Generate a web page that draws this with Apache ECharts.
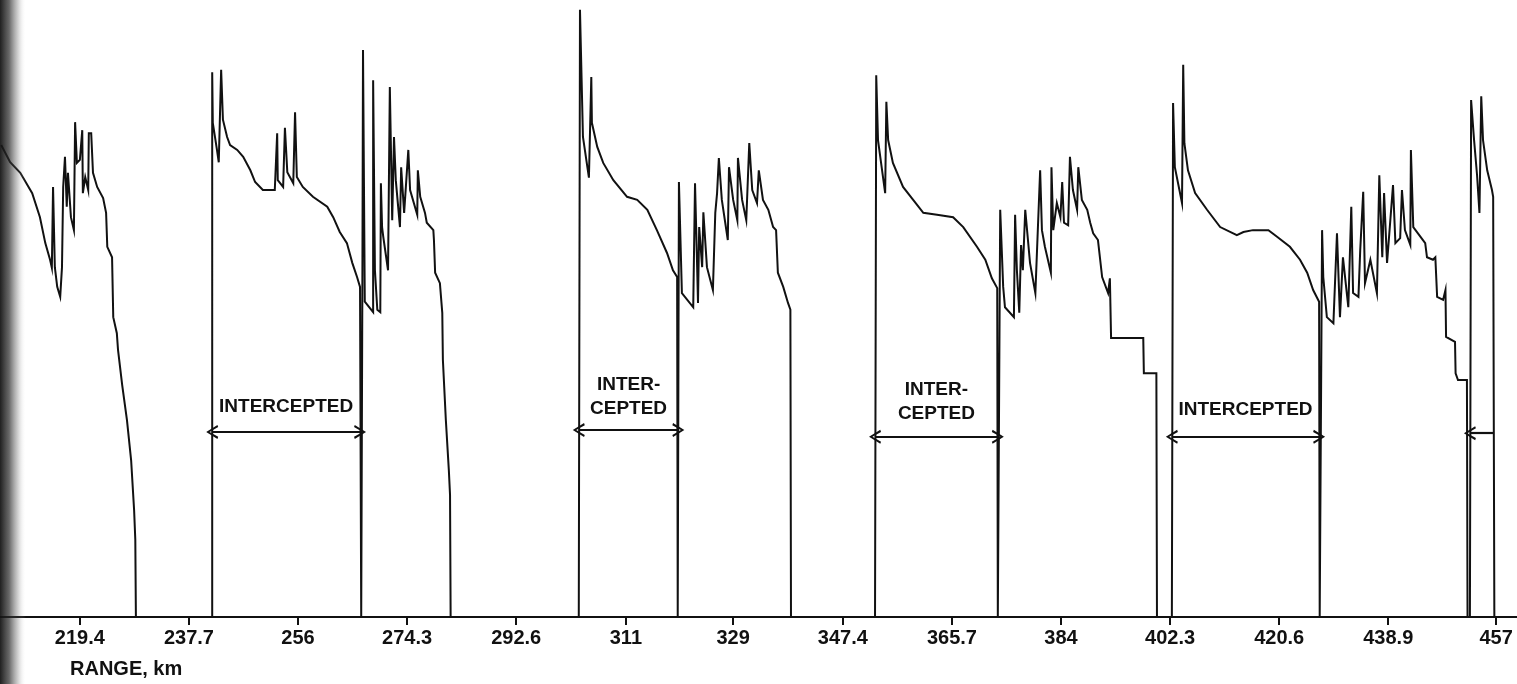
<!DOCTYPE html>
<html>
<head>
<meta charset="utf-8">
<title>RANGE, km</title>
<script src="https://cdn.jsdelivr.net/npm/echarts@6/dist/echarts.min.js"></script>
<style>
  html, body { margin: 0; padding: 0; background: #fff; }
  #chart { width: 1517px; height: 684px; }
</style>
</head>
<body>
<div id="chart"></div>
<script>
// Range tick positions (km) and the labels printed under them
const tickValues = [219.4, 237.7, 256, 274.3, 292.6, 311, 329, 347.4, 365.7, 384, 402.3, 420.6, 438.9, 457];
const tickLabels = ['219.4', '237.7', '256', '274.3', '292.6', '311', '329', '347.4', '365.7', '384', '402.3', '420.6', '438.9', '457'];

// Received signal level (relative, 0-100) versus range (km), one array per trace run
const traceA = [[206.2,76.5],[207.7,73.7],[209.4,72.0],[211.4,68.7],[212.7,64.8],[213.6,60.6],[214.4,57.9],[214.7,56.6],[214.9,69.7],[215.2,56.7],[215.6,53.5],[216.1,51.9],[216.4,56.7],[216.6,69.7],[216.9,74.6],[217.2,66.5],[217.4,72.0],[217.9,64.8],[218.4,62.7],[218.6,80.2],[218.9,73.6],[219.4,74.1],[219.8,78.9],[219.9,68.7],[220.3,71.3],[220.8,69.2],[220.9,78.4],[221.3,78.4],[221.6,72.0],[222.3,69.7],[223.3,67.9],[223.8,65.5],[224.0,60.0],[224.8,58.3],[225.0,48.6],[225.6,46.0],[225.8,43.3],[226.5,37.6],[227.3,31.9],[228.0,25.4],[228.5,17.3],[228.7,12.5],[228.8,0]];
const traceB = [[241.6,0],[241.6,88.3],[241.7,80.1],[242.4,75.7],[242.7,73.7],[243.1,88.7],[243.4,80.6],[244.1,77.8],[244.6,76.5],[245.8,75.7],[246.8,74.6],[248.0,72.4],[248.8,70.5],[250.1,69.2],[252.1,69.2],[252.5,78.4],[252.6,70.8],[253.5,69.7],[253.8,79.3],[254.2,72.1],[255.2,70.3],[255.5,81.8],[255.8,71.3],[256.8,69.7],[258.5,68.1],[260.9,66.5],[261.9,64.8],[263.0,62.4],[264.2,60.6],[265.1,57.4],[265.9,55.1],[266.4,53.5],[266.6,0]];
const traceC = [[266.7,0],[266.8,56.2],[266.9,91.9],[267.2,51.1],[268.6,49.4],[268.6,87.0],[268.9,56.2],[269.3,49.8],[269.8,49.4],[269.9,70.3],[270.1,63.2],[270.3,61.6],[271.1,56.2],[271.4,85.9],[271.8,64.3],[272.1,77.8],[272.4,70.8],[273.1,63.2],[273.3,72.9],[273.8,65.5],[274.5,75.7],[274.8,69.2],[276.0,65.2],[276.1,72.4],[276.5,68.1],[277.3,65.5],[277.6,63.9],[278.7,62.7],[278.8,61.1],[279.0,55.8],[279.8,54.1],[280.2,49.3],[280.3,41.7],[280.8,31.9],[281.3,23.8],[281.5,19.8],[281.6,0]];
const traceD = [[303.1,0],[303.3,98.4],[303.8,77.8],[304.8,71.2],[305.2,87.5],[305.3,80.1],[306.2,76.2],[307.2,73.6],[308.9,70.8],[311.2,68.1],[312.9,67.6],[314.6,66.0],[316.2,62.7],[317.9,59.0],[318.9,56.2],[319.6,55.1],[319.7,0]];
const traceE = [[319.8,0],[319.9,70.5],[320.4,52.5],[322.3,50.2],[322.6,70.3],[322.9,59.0],[323.1,50.9],[323.3,63.2],[323.8,56.7],[324.0,65.6],[324.6,56.7],[325.6,53.0],[326.0,65.5],[326.3,68.7],[326.6,74.4],[327.1,67.6],[328.1,61.1],[328.3,72.9],[329.0,67.6],[329.7,64.3],[329.8,74.4],[330.5,67.6],[331.2,64.3],[331.7,76.8],[332.2,69.2],[333.0,67.1],[333.3,72.4],[334.0,67.6],[334.9,66.0],[335.7,63.2],[336.2,62.7],[336.5,55.8],[337.4,53.5],[338.2,50.9],[338.6,49.8],[338.7,0]];
const traceF = [[352.8,0],[353.0,87.8],[353.3,77.3],[354.5,68.7],[354.7,83.5],[355.0,77.3],[355.8,73.6],[357.5,69.7],[359.2,67.6],[360.9,65.5],[363.2,65.2],[365.9,64.8],[367.6,63.2],[369.9,60.0],[371.3,57.9],[372.4,54.9],[373.3,53.3],[373.4,0]];
const traceG = [[373.6,0],[373.8,66.0],[374.3,53.5],[374.6,50.2],[376.1,48.6],[376.3,65.2],[376.6,56.2],[377.0,49.3],[377.3,60.3],[377.6,56.2],[378.0,66.0],[378.8,57.4],[379.7,52.5],[380.0,60.0],[380.5,72.4],[380.8,62.7],[381.3,60.0],[382.3,55.8],[382.4,72.9],[382.7,62.7],[383.3,67.1],[383.9,64.8],[384.2,70.5],[384.5,63.9],[385.2,63.5],[385.5,74.6],[386.0,69.2],[386.7,66.0],[386.9,72.9],[387.5,67.6],[388.4,66.0],[388.9,63.9],[389.4,62.2],[390.2,61.1],[390.9,55.1],[391.9,52.5],[392.2,54.9],[392.4,45.2],[397.8,45.2],[397.9,39.5],[400.0,39.5],[400.1,0]];
const traceH = [[402.6,0],[402.8,83.3],[403.1,72.9],[404.3,67.1],[404.5,89.5],[404.7,76.8],[405.3,72.4],[406.5,68.7],[408.5,66.0],[410.7,63.2],[413.5,61.9],[414.6,62.4],[416.2,62.7],[418.8,62.7],[420.3,61.6],[422.4,60.0],[424.1,57.9],[425.3,55.8],[426.3,53.0],[427.3,51.1],[427.4,0]];
const traceI = [[427.6,0],[427.8,62.7],[428.0,55.1],[428.6,48.6],[429.7,47.6],[430.3,62.2],[430.8,48.6],[431.3,58.3],[432.2,50.2],[432.7,66.5],[433.0,52.5],[433.9,51.9],[434.2,59.5],[434.7,68.9],[435.0,54.1],[435.9,57.9],[437.0,52.5],[437.4,71.6],[437.9,58.3],[438.2,68.7],[438.7,57.4],[439.7,70.0],[440.1,60.6],[440.9,61.4],[441.2,69.2],[441.7,62.7],[442.6,60.3],[442.7,75.7],[443.1,63.2],[445.1,60.6],[445.4,58.3],[446.4,57.9],[446.8,58.3],[447.1,51.9],[448.1,51.4],[448.5,53.0],[448.6,45.4],[450.1,44.6],[450.2,39.5],[450.6,38.4],[452.1,38.4],[452.2,0]];
const traceJ = [[452.6,0],[452.8,83.8],[453.3,77.3],[453.8,71.6],[454.2,65.5],[454.5,84.4],[454.8,77.3],[455.5,72.4],[456.3,69.2],[456.5,68.1],[456.7,0],[460.5,0]];

// Intercepted stretches: start km, end km, level of the arrow, text
const interceptStart = [241.6, 303.1, 352.8, 402.6, 452.6];
const interceptEnd   = [266.4, 319.8, 373.4, 427.3, 456.5];
const interceptLevel = [30.0, 30.3, 29.2, 29.2, 29.8];
const interceptText  = ['INTERCEPTED', 'INTER-\nCEPTED', 'INTER-\nCEPTED', 'INTERCEPTED', ''];

const trace = [].concat(traceA, traceB, traceC, traceD, traceE, traceF, traceG, traceH, traceI, traceJ);

const FONT = '"Liberation Sans", Arial, Helvetica, sans-serif';
const INK = '#111';
// open chevron arrow head
const chevron = 'path://M0,12 L6,0 L12,12 L10.2,12.8 L6,3.6 L1.8,12.8 Z';

const labelDist = [13, 9, 11, 15, 0];
const markData = interceptStart.map((s, i) => [
  {
    coord: [s, interceptLevel[i]],
    symbol: chevron,
    label: {
      show: interceptText[i] !== '',
      formatter: interceptText[i],
      position: 'insideMiddleTop',
      distance: labelDist[i]
    }
  },
  {
    coord: [interceptEnd[i], interceptLevel[i]],
    symbol: i === 4 ? 'none' : chevron
  }
]);

const chart = echarts.init(document.getElementById('chart'), null, { renderer: 'canvas' });
chart.setOption({
  animation: false,
  backgroundColor: '#fff',
  grid: { left: 0, right: 0, top: 0, bottom: 67 },
  xAxis: {
    type: 'value',
    min: 206,
    max: 460.5,
    splitLine: { show: false },
    axisLine: { show: true, onZero: false, lineStyle: { color: INK, width: 2 } },
    axisTick: {
      show: true,
      customValues: tickValues,
      length: 8,
      lineStyle: { color: INK, width: 2 }
    },
    axisLabel: {
      show: true,
      customValues: tickValues,
      margin: 11,
      color: INK,
      fontFamily: FONT,
      fontWeight: 'bold',
      fontSize: 20,
      formatter: (v) => {
        const k = tickValues.findIndex(t => Math.abs(t - v) < 1e-6);
        return k >= 0 ? tickLabels[k] : '';
      }
    }
  },
  yAxis: {
    type: 'value',
    min: 0,
    max: 100,
    show: false,
    splitLine: { show: false }
  },
  series: [{
    type: 'line',
    data: trace,
    showSymbol: false,
    symbol: 'none',
    clip: true,
    lineStyle: { color: INK, width: 2, join: 'miter' },
    markLine: {
      silent: true,
      animation: false,
      symbolSize: [14, 12],
      lineStyle: { color: INK, width: 2.2, type: 'solid' },
      label: {
        color: INK,
        fontFamily: FONT,
        fontWeight: 'bold',
        fontSize: 19,
        lineHeight: 24,
        align: 'center'
      },
      emphasis: { disabled: true },
      data: markData
    }
  }],
  graphic: [
    {
      type: 'text',
      left: 70,
      top: 659,
      style: {
        text: 'RANGE, km',
        fill: INK,
        font: 'bold 20px ' + FONT
      }
    },
    {
      type: 'rect',
      left: 0,
      top: 0,
      z: 100,
      shape: { width: 26, height: 684 },
      style: {
        fill: new echarts.graphic.LinearGradient(0, 0, 1, 0, [
          { offset: 0, color: 'rgba(20,20,20,0.95)' },
          { offset: 0.35, color: 'rgba(40,40,40,0.7)' },
          { offset: 0.7, color: 'rgba(80,80,80,0.25)' },
          { offset: 1, color: 'rgba(255,255,255,0)' }
        ])
      }
    }
  ]
});
</script>
</body>
</html>
